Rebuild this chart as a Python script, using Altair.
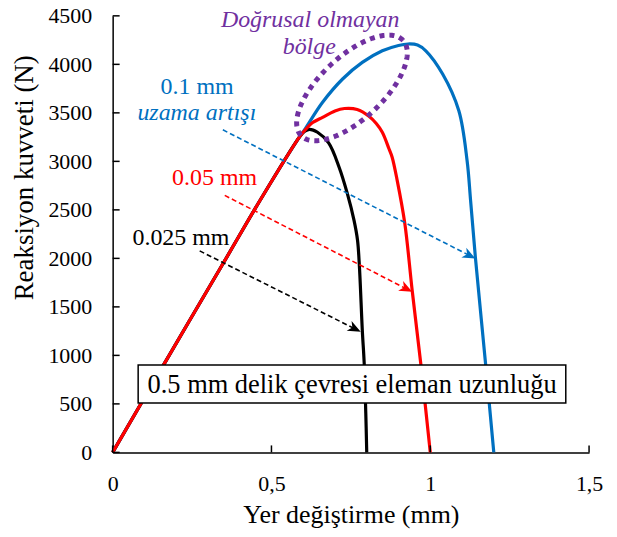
import altair as alt
import pandas as pd
import numpy as np

W, H = 478, 438
X_MAX, Y_MAX = 1.5, 4500
PX_X = W / X_MAX      # pixels per mm
PX_Y = H / Y_MAX      # pixels per N
FONT = "Liberation Serif"

# ---- data ----
lin_x = [0.0, 0.16, 0.35, 0.47, 0.59]
lin_y = [0, 900, 1960, 2630, 3260]

black_x = [0.605, 0.62, 0.645, 0.68, 0.713, 0.739, 0.76, 0.771, 0.777, 0.786, 0.792, 0.797, 0.80]
black_y = [3310, 3330, 3300, 3190, 2940, 2667, 2392, 2187, 1912, 1261, 919, 405, 0]

red_x = [0.605, 0.63, 0.661, 0.70, 0.73, 0.77, 0.807, 0.83, 0.849, 0.870, 0.880, 0.896, 0.920, 0.943, 0.97, 1.0]
red_y = [3320, 3400, 3454, 3520, 3545, 3535, 3465, 3390, 3300, 3130, 3043, 2802, 2357, 1672, 919, 0]

blue_x = [0.605, 0.661, 0.724, 0.786, 0.849, 0.90, 0.93, 0.96, 0.986, 1.039, 1.090,
          1.116, 1.127, 1.142, 1.174, 1.2]
blue_y = [3330, 3609, 3849, 4020, 4140, 4195, 4210, 4200, 4140, 3900, 3521,
          3007, 2596, 2014, 919, 0]

x_ticks = [0, 0.5, 1, 1.5]
y_ticks = [0, 500, 1000, 1500, 2000, 2500, 3000, 3500, 4000, 4500]

ann_text = ["Doğrusal olmayan", "bölge", "0.1 mm", "uzama artışı", "0.05 mm", "0.025 mm"]
ann_x = [0.622, 0.619, 0.266, 0.265, 0.321, 0.215]
ann_y = [4380, 4106, 3695, 3426, 2752, 2135]
ann_color = ["#7030A0", "#7030A0", "#0070C0", "#0070C0", "#FF0000", "#000000"]
ann_italic = [True, True, False, True, False, False]

arrow_color = ["#0070C0", "#FF0000", "#000000"]
arrow_x0 = [0.347, 0.353, 0.274]
arrow_y0 = [3325, 2649, 2077]
arrow_x1 = [1.142, 0.943, 0.781]
arrow_y1 = [1999, 1655, 1244]

box_text = ["0.5 mm delik çevresi eleman uzunluğu"]
box_x1, box_x2 = [0.0803], [1.4267]
box_y1, box_y2 = [508], [902]
box_tx, box_ty = [0.754], [611]

ell_cx, ell_cy = 0.7535, 3757
ell_a, ell_b, ell_rot = 70, 31.5, 43   # pixels, degrees


def curve(xs, ys):
    xs = lin_x + xs
    ys = lin_y + ys
    return pd.DataFrame({"x": xs, "y": ys, "o": list(range(len(xs)))})


xscale = alt.Scale(domain=[0, X_MAX], nice=False, zero=True)
yscale = alt.Scale(domain=[0, Y_MAX], nice=False, zero=True)

x_axis = alt.Axis(
    values=x_ticks, labelExpr="replace(format(datum.value, '~g'), '.', ',')",
    ticks=False, tickSize=0, labelPadding=21, labelFontSize=22, labelFont=FONT,
    labelColor="black", labelFlush=False, labelOverlap=False, grid=False,
    domainColor="black", domainWidth=1.5,
    title="Yer değiştirme (mm)", titleFont=FONT, titleFontSize=26,
    titleFontWeight="normal", titleColor="black", titleBaseline="alphabetic", titleY=70.5,
)
y_axis = alt.Axis(
    values=y_ticks, format="d",
    ticks=False, tickSize=0, labelPadding=21, labelFontSize=22, labelFont=FONT,
    labelColor="black", labelFlush=False, labelOverlap=False, grid=False,
    domainColor="black", domainWidth=1.5,
    title="Reaksiyon kuvveti (N)", titleFont=FONT, titleFontSize=27,
    titleFontWeight="normal", titleColor="black", titleAngle=270,
    titleBaseline="alphabetic", titleAlign="center", titleX=-80, titleY=162,
)

X = lambda: alt.X("x:Q", scale=xscale, title="Yer değiştirme (mm)")
Y = lambda: alt.Y("y:Q", scale=yscale, title="Reaksiyon kuvveti (N)")


def line_layer(df, color, first=False):
    if first:
        xe = alt.X("x:Q", scale=xscale, axis=x_axis, title="Yer değiştirme (mm)")
        ye = alt.Y("y:Q", scale=yscale, axis=y_axis, title="Reaksiyon kuvveti (N)")
    else:
        xe, ye = X(), Y()
    return alt.Chart(df).mark_line(color=color, strokeWidth=3.2, interpolate="catmull-rom").encode(
        x=xe, y=ye, order="o:Q")


blue = line_layer(curve(blue_x, blue_y), "#0070C0", first=True)
black = line_layer(curve(black_x, black_y), "#000000")
red = line_layer(curve(red_x, red_y), "#FF0000")

# inside ticks
ytick_df = pd.DataFrame({"y": y_ticks})
xtick_df = pd.DataFrame({"x": x_ticks})
yticks = alt.Chart(ytick_df).mark_rule(color="black", strokeWidth=1.5).encode(
    y=Y(), x=alt.value(0), x2=alt.value(7))
xticks = alt.Chart(xtick_df).mark_rule(color="black", strokeWidth=1.5).encode(
    x=X(), y=alt.value(H), y2=alt.value(H - 7))

# dotted ellipse (annotation shape)
t = np.linspace(0, 2 * np.pi, 241)
r = np.radians(ell_rot)
ex_px = ell_a * np.cos(t) * np.cos(r) - ell_b * np.sin(t) * np.sin(r)
ey_px = ell_a * np.cos(t) * np.sin(r) + ell_b * np.sin(t) * np.cos(r)
ell_df = pd.DataFrame({"x": ell_cx + ex_px / PX_X, "y": ell_cy + ey_px / PX_Y, "o": np.arange(len(t))})
ellipse = alt.Chart(ell_df).mark_line(color="#7030A0", strokeWidth=5, strokeDash=[5, 5]).encode(
    x=X(), y=Y(), order="o:Q")

# arrows
ang, lx1, ly1 = [], [], []
for x0, y0, x1, y1 in zip(arrow_x0, arrow_y0, arrow_x1, arrow_y1):
    dx = (x1 - x0) * PX_X
    dy = (y0 - y1) * PX_Y
    a = np.arctan2(dy, dx)
    ang.append(float(np.degrees(a)))
    lx1.append(x1 - 8 * np.cos(a) / PX_X)
    ly1.append(y1 + 8 * np.sin(a) / PX_Y)
line_df = pd.DataFrame({"x": arrow_x0, "y": arrow_y0, "x2": lx1, "y2": ly1, "c": arrow_color})
head_df = pd.DataFrame({"x": arrow_x1, "y": arrow_y1, "ang": ang, "c": arrow_color})
arrow_lines = alt.Chart(line_df).mark_rule(strokeWidth=1.6, strokeDash=[5, 3]).encode(
    x=X(), y=Y(), x2="x2:Q", y2="y2:Q", color=alt.Color("c:N", scale=None))
arrow_heads = alt.Chart(head_df).mark_point(
    shape="M 0 0 L -1 -0.42 L -0.72 0 L -1 0.42 Z", size=676, filled=True, opacity=1, strokeWidth=0
).encode(x=X(), y=Y(), angle=alt.Angle("ang:Q", scale=None), color=alt.Color("c:N", scale=None))

# annotation texts
ann_df = pd.DataFrame({"x": ann_x, "y": ann_y, "t": ann_text, "c": ann_color, "it": ann_italic})
ann_it = alt.Chart(ann_df[ann_df.it]).mark_text(
    font=FONT, fontSize=24, fontStyle="italic", baseline="alphabetic", align="center").encode(
    x=X(), y=Y(), text="t:N", color=alt.Color("c:N", scale=None))
ann_no = alt.Chart(ann_df[~ann_df.it]).mark_text(
    font=FONT, fontSize=24, baseline="alphabetic", align="center").encode(
    x=X(), y=Y(), text="t:N", color=alt.Color("c:N", scale=None))

# boxed label
box_df = pd.DataFrame({"x": box_x1, "x2": box_x2, "y": box_y1, "y2": box_y2})
lab_df = pd.DataFrame({"x": box_tx, "y": box_ty, "t": box_text})
box = alt.Chart(box_df).mark_rect(fill="white", stroke="black", strokeWidth=1.5).encode(
    x=X(), x2="x2:Q", y=Y(), y2="y2:Q")
box_label = alt.Chart(lab_df).mark_text(
    font=FONT, fontSize=26.5, baseline="alphabetic", align="center", color="black").encode(
    x=X(), y=Y(), text="t:N")

chart = alt.layer(
    blue, black, red, yticks, xticks, arrow_lines, arrow_heads, ellipse, ann_it, ann_no, box, box_label
).properties(
    width=W, height=H,
    autosize=alt.AutoSizeParams(type="none"),
    padding={"left": 105, "top": 7, "right": 20, "bottom": 80},
    background="white",
).configure_view(stroke=None)

chart.save("out.html", embed_options={"renderer": "svg", "actions": False})
